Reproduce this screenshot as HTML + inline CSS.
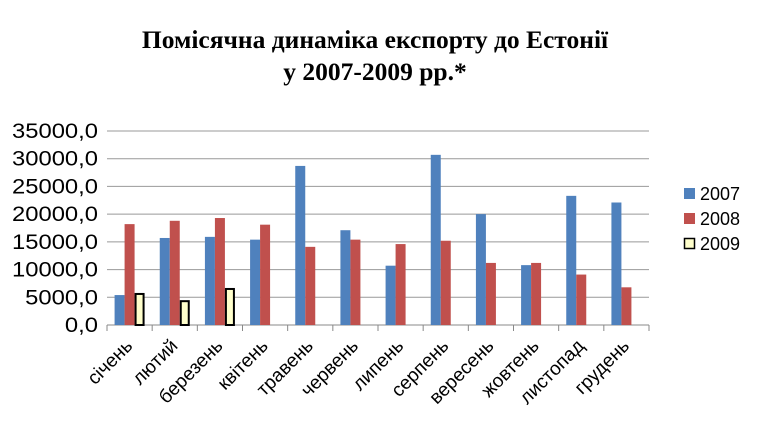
<!DOCTYPE html>
<html><head><meta charset="utf-8"><style>
body{margin:0;background:#fff;width:763px;height:438px;overflow:hidden}
svg{display:block}
</style></head><body>
<svg width="763" height="438">
<text x="375" y="48" text-anchor="middle" font-family="Liberation Serif, serif" font-weight="bold" font-size="25.5">Помісячна динаміка експорту до Естонії</text>
<text x="375" y="80" text-anchor="middle" font-family="Liberation Serif, serif" font-weight="bold" font-size="25.5">у 2007-2009 рр.*</text>
<g id="grid"></g><g id="bars"></g><g id="labels"></g>
<g font-family="Liberation Sans, sans-serif" font-size="18">
<rect x="684" y="188" width="11" height="11" fill="#4f81bd"/>
<text x="700" y="200">2007</text>
<rect x="684" y="213" width="11" height="11" fill="#c0504d"/>
<text x="700" y="225">2008</text>
<rect x="684.5" y="238.5" width="10" height="10" fill="#ffffcc" stroke="#000" stroke-width="1.5"/>
<text x="700" y="250">2009</text>
</g>
</svg>
<script>
const categories=["січень","лютий","березень","квітень","травень","червень","липень","серпень","вересень","жовтень","листопад","грудень"];
const s2007=[5400,15700,15900,15400,28700,17100,10700,30700,20000,10800,23300,22100];
const s2008=[18200,18800,19300,18100,14100,15400,14600,15200,11200,11200,9100,6800];
const s2009=[5600,4300,6500,null,null,null,null,null,null,null,null,null];
const ticks=[0,5000,10000,15000,20000,25000,30000,35000];
const tickLabels=["0,0","5000,0","10000,0","15000,0","20000,0","25000,0","30000,0","35000,0"];
const NS="http://www.w3.org/2000/svg";
const X0=107,X1=649,Y0=325,Y1=131,YMAX=35000;
const cw=(X1-X0)/categories.length;
const y=v=>Y0-(v/YMAX)*(Y0-Y1);
const xc=i=>X0+i*cw;
function mk(t,a,p){const e=document.createElementNS(NS,t);for(const k in a)e.setAttribute(k,a[k]);p.appendChild(e);return e;}
const grid=document.getElementById('grid'),bars=document.getElementById('bars'),labels=document.getElementById('labels');
ticks.forEach((t,i)=>{
 const l=mk('line',{x1:X0,x2:X1,y1:y(t),y2:y(t),stroke:i==0?'#888':'#999','stroke-width':1},grid);
 
 
 const lab=tickLabels[i];
 const nd=lab.replace(',','').length;
 const tx=mk('text',{x:98,y:y(t)+7,'text-anchor':'end','font-family':'Liberation Sans, sans-serif','font-size':21,textLength:(23.8*(nd*0.556+0.278)).toFixed(1),lengthAdjust:'spacingAndGlyphs'},grid);
 tx.textContent=lab;
 
 
});
for(let i=0;i<=categories.length;i++){
 const l=mk('line',{x1:xc(i),x2:xc(i),y1:Y0,y2:Y0+6,stroke:'#888'},grid);
 
 
}
const bw=10;
categories.forEach((c,i)=>{
 const off=xc(i)+(cw-3*bw)/2;
 [[s2007,'#4f81bd',null],[s2008,'#c0504d',null],[s2009,'#ffffcc','#000']].forEach((s,j)=>{
  const v=s[0][i]; if(v==null)return;
  const a={x:off+j*bw,y:y(v),width:bw,height:Y0-y(v),fill:s[1]};
  if(s[2]){a.stroke=s[2];a['stroke-width']=2;a.x+=1;a.width=bw-2;}
  const r=mk('rect',a,bars);
  
  
 });
 const cx=xc(i)+cw/2+4, cy=Y0+22;
 const t=mk('text',{x:cx,y:cy,'text-anchor':'end','font-family':'Liberation Sans, sans-serif','font-size':19,transform:`rotate(-45 ${cx} ${cy})`},labels);
 t.textContent=c;
 
 
});
</script>
</body></html>
